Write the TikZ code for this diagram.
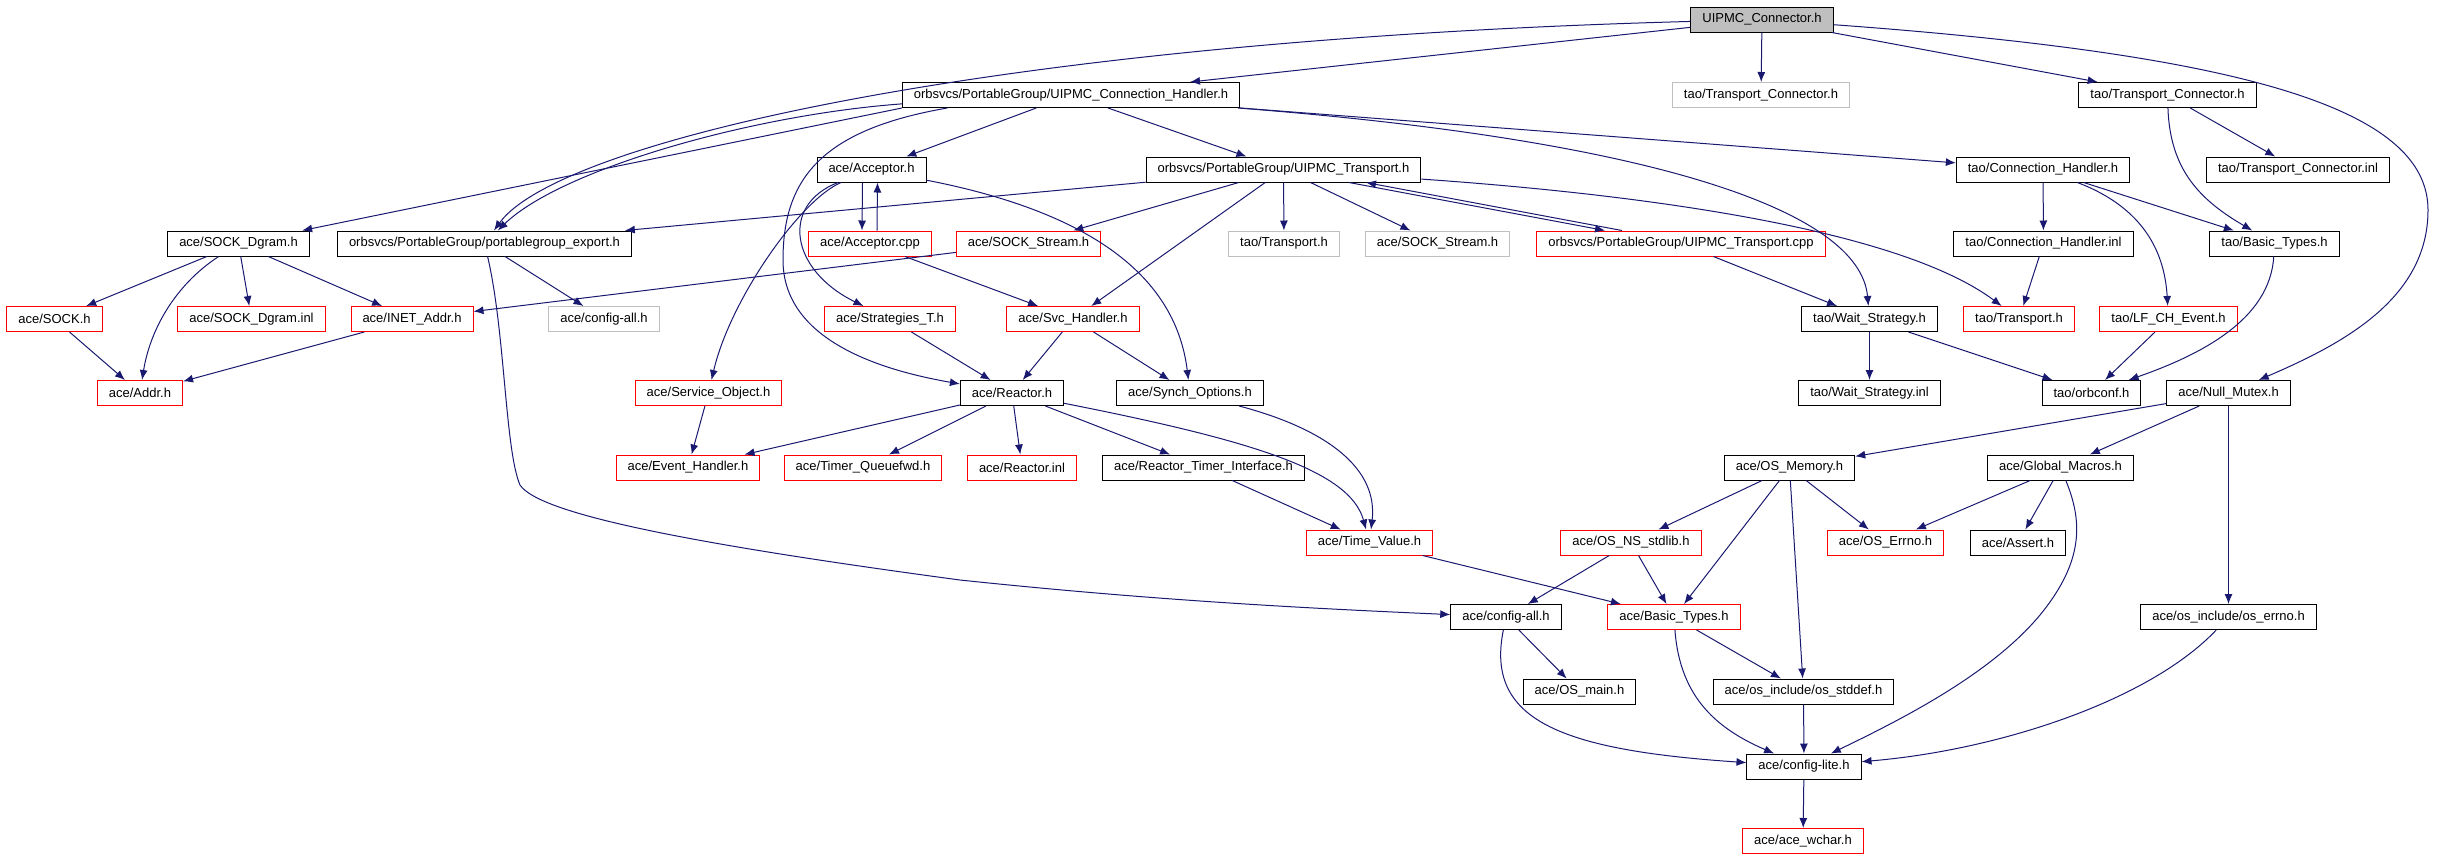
\documentclass[tikz,border=0pt]{standalone}
\usepackage{fontspec}
\setmainfont{Liberation Sans}
\usepackage{tikz}
\usetikzlibrary{arrows.meta}
\definecolor{edgeblue}{HTML}{191970}
\definecolor{boxgray}{HTML}{BFBFBF}

\begin{document}
\begin{tikzpicture}[x=0.5pt, y=-0.5pt, font=\fontsize{6.5}{7.5}\selectfont,
	hdr/.style={draw=black, line width=0.5pt, inner xsep=5.75pt, inner ysep=0pt, minimum height=12.5pt},
	hdrred/.style={hdr, draw=red},
	hdrgray/.style={hdr, draw=boxgray},
	dep/.style={draw=edgeblue, line width=0.5pt, -{Latex[length=5pt,width=4pt]}}]
	\useasboundingbox (0,0) rectangle (2447,859);
	% row 0 - 2
	\node[hdr, fill=boxgray] (C) at (1762,19.5) {UIPMC\_Connector.h};
	\node[hdr] (CH) at (1071,95) {orbsvcs/PortableGroup/UIPMC\_Connection\_Handler.h};
	\node[hdrgray] (tcg) at (1761,95) {tao/Transport\_Connector.h};
	\node[hdr] (tc) at (2167.5,95) {tao/Transport\_Connector.h};
	\node[hdr] (acc) at (871.5,169.5) {ace/Acceptor.h};
	\node[hdr] (tr) at (1283.5,169.5) {orbsvcs/PortableGroup/UIPMC\_Transport.h};
	\node[hdr] (ch) at (2043,169.5) {tao/Connection\_Handler.h};
	\node[hdr] (tci) at (2298,169.5) {tao/Transport\_Connector.inl};
	% row 3
	\node[hdr] (dgram) at (238.5,243.5) {ace/SOCK\_Dgram.h};
	\node[hdr] (pge) at (484.5,243.5) {orbsvcs/PortableGroup/portablegroup\_export.h};
	\node[hdrred] (acpp) at (870,243.5) {ace/Acceptor.cpp};
	\node[hdrred] (ssr) at (1028.5,243.5) {ace/SOCK\_Stream.h};
	\node[hdrgray] (trg) at (1284,243.5) {tao/Transport.h};
	\node[hdrgray] (ssg) at (1437.5,243.5) {ace/SOCK\_Stream.h};
	\node[hdrred] (trcpp) at (1681,243.5) {orbsvcs/PortableGroup/UIPMC\_Transport.cpp};
	\node[hdr] (chi) at (2043.5,243.5) {tao/Connection\_Handler.inl};
	\node[hdr] (tbt) at (2274.5,243.5) {tao/Basic\_Types.h};
	% row 4
	\node[hdrred] (sock) at (54.5,319) {ace/SOCK.h};
	\node[hdrred] (dinl) at (251.5,319) {ace/SOCK\_Dgram.inl};
	\node[hdrred] (inet) at (412,319) {ace/INET\_Addr.h};
	\node[hdrgray] (cag) at (604,319) {ace/config-all.h};
	\node[hdrred] (strat) at (890,319) {ace/Strategies\_T.h};
	\node[hdrred] (svc) at (1073,319) {ace/Svc\_Handler.h};
	\node[hdr] (ws) at (1869.5,319) {tao/Wait\_Strategy.h};
	\node[hdrred] (trr) at (2019,319) {tao/Transport.h};
	\node[hdrred] (lf) at (2168.5,319) {tao/LF\_CH\_Event.h};
	% row 5
	\node[hdrred] (addr) at (140,393) {ace/Addr.h};
	\node[hdrred] (so) at (708.5,393) {ace/Service\_Object.h};
	\node[hdr] (reac) at (1012,393) {ace/Reactor.h};
	\node[hdr] (synch) at (1190,393) {ace/Synch\_Options.h};
	\node[hdr] (wsi) at (1869.5,393) {tao/Wait\_Strategy.inl};
	\node[hdr] (orb) at (2091.5,393) {tao/orbconf.h};
	\node[hdr] (nm) at (2228.5,393) {ace/Null\_Mutex.h};
	% row 6
	\node[hdrred] (eh) at (688,467.5) {ace/Event\_Handler.h};
	\node[hdrred] (tq) at (863,467.5) {ace/Timer\_Queuefwd.h};
	\node[hdrred] (rinl) at (1022,467.5) {ace/Reactor.inl};
	\node[hdr] (rti) at (1203.5,467.5) {ace/Reactor\_Timer\_Interface.h};
	\node[hdr] (osm) at (1789.5,467.5) {ace/OS\_Memory.h};
	\node[hdr] (gm) at (2060.5,467.5) {ace/Global\_Macros.h};
	% row 7 - 11
	\node[hdrred] (tv) at (1369.5,542.5) {ace/Time\_Value.h};
	\node[hdrred] (nss) at (1631,542.5) {ace/OS\_NS\_stdlib.h};
	\node[hdrred] (err) at (1885.5,542.5) {ace/OS\_Errno.h};
	\node[hdr] (asrt) at (2018,542.5) {ace/Assert.h};
	\node[hdr] (ca) at (1506,617) {ace/config-all.h};
	\node[hdrred] (abt) at (1674,617) {ace/Basic\_Types.h};
	\node[hdr] (oerr) at (2228.5,617) {ace/os\_include/os\_errno.h};
	\node[hdr] (osmain) at (1579.5,691.5) {ace/OS\_main.h};
	\node[hdr] (stddef) at (1803.5,691.5) {ace/os\_include/os\_stddef.h};
	\node[hdr] (cl) at (1804,766.5) {ace/config-lite.h};
	\node[hdrred] (wchar) at (1803,841) {ace/ace\_wchar.h};

	% top levels
	\draw[dep] (C) -- (CH);
	\draw[dep] (C) .. controls (1000,40) and (560,140) .. (pge);
	\draw[dep] (C) -- (tcg);
	\draw[dep] (C) -- (tc);
	\draw[dep] (C) .. controls (2250,55) and (2428,110) .. (2428,210) .. controls (2428,300) and (2340,345) .. (nm);
	\draw[dep] (CH.south west) -- (dgram);
	\draw[dep] (CH.-177) .. controls (750,115) and (560,170) .. (pge);
	\draw[dep] (CH) -- (acc);
	\draw[dep] (CH) -- (tr);
	\draw[dep] (CH) -- (ch);
	\draw[dep] (CH) .. controls (1650,140) and (1860,210) .. (ws);
	\draw[dep] (CH.-174) .. controls (820,130) and (783,180) .. (783,260) .. controls (783,340) and (880,370) .. (reac);
	\draw[dep] (tc) -- (tci);
	\draw[dep] (tc) .. controls (2170,170) and (2200,200) .. (tbt);
	\draw[dep] (ch) -- (chi);
	\draw[dep] (ch) -- (tbt);
	\draw[dep] (ch) .. controls (2150,210) and (2165,260) .. (lf);
	% acceptor
	\draw[dep] ([xshift=-4.5pt]acc.south) -- ([xshift=-4pt]acpp.north);
	\draw[dep] ([xshift=3.5pt]acpp.north) -- ([xshift=3pt]acc.south);
	\draw[dep] (acc) .. controls (800,200) and (730,300) .. (so);
	\draw[dep] (acc) .. controls (780,205) and (790,270) .. (strat);
	\draw[dep] (acc) .. controls (1080,210) and (1175,270) .. (synch);
	\draw[dep] (acpp) -- (svc);
	% transport
	\draw[dep] (tr) -- (pge);
	\draw[dep] (tr) -- (ssr);
	\draw[dep] (tr) -- (svc);
	\draw[dep] (tr) -- (trg);
	\draw[dep] (tr) -- (ssg);
	\draw[dep] ([xshift=32.75pt]tr.south) -- ([xshift=-38pt]trcpp.north);
	\draw[dep] ([xshift=-29.5pt]trcpp.north) -- ([xshift=41.25pt]tr.south);
	\draw[dep] (tr) .. controls (1650,195) and (1900,230) .. (trr);
	\draw[dep] (trcpp) -- (ws);
	\draw[dep] (ssr) -- (inet);
	\draw[dep] (chi) -- (trr);
	\draw[dep] (tbt) .. controls (2270,320) and (2200,355) .. (orb);
	\draw[dep] (ws) -- (wsi);
	\draw[dep] (ws) -- (orb);
	\draw[dep] (lf) -- (orb);
	% left part
	\draw[dep] (dgram) -- (sock);
	\draw[dep] (dgram) .. controls (175,285) and (150,330) .. (addr);
	\draw[dep] (dgram) -- (dinl);
	\draw[dep] (dgram) -- (inet);
	\draw[dep] (sock) -- (addr);
	\draw[dep] (inet) -- (addr);
	\draw[dep] (pge) -- (cag);
	\draw[dep] (pge) .. controls (505,330) and (505,450) .. (520,485) .. controls (540,515) and (700,545) .. (960,580) .. controls (1150,600) and (1300,608) .. (ca);
	\draw[dep] (so) -- (eh);
	% reactor
	\draw[dep] (strat) -- (reac);
	\draw[dep] (svc) -- (reac);
	\draw[dep] (svc) -- (synch);
	\draw[dep] (reac) -- (eh);
	\draw[dep] (reac) -- (tq);
	\draw[dep] (reac) -- (rinl);
	\draw[dep] (reac) -- (rti);
	\draw[dep] (reac) .. controls (1250,440) and (1350,470) .. (tv);
	\draw[dep] (synch) .. controls (1330,430) and (1378,470) .. (tv);
	\draw[dep] (rti) -- (tv);
	\draw[dep] (tv) -- (abt);
	% os layer
	\draw[dep] (nm) -- (osm);
	\draw[dep] (nm) -- (gm);
	\draw[dep] (nm) -- (oerr);
	\draw[dep] (osm) -- (nss);
	\draw[dep] (osm) -- (abt);
	\draw[dep] (osm) -- (stddef);
	\draw[dep] (osm) -- (err);
	\draw[dep] (gm) -- (err);
	\draw[dep] (gm) -- (asrt);
	\draw[dep] (gm) .. controls (2082,520) and (2085,560) .. (2040,615) .. controls (1990,675) and (1900,720) .. (cl);
	\draw[dep] (nss) -- (ca);
	\draw[dep] (nss) -- (abt);
	\draw[dep] (ca) -- (osmain);
	\draw[dep] (ca) .. controls (1485,720) and (1560,750) .. (cl);
	\draw[dep] (abt) -- (stddef);
	\draw[dep] (abt) .. controls (1680,700) and (1720,730) .. (cl);
	\draw[dep] (oerr) .. controls (2150,700) and (2000,750) .. (cl);
	\draw[dep] (stddef) -- (cl);
	\draw[dep] (cl) -- (wchar);
\end{tikzpicture}
\end{document}
